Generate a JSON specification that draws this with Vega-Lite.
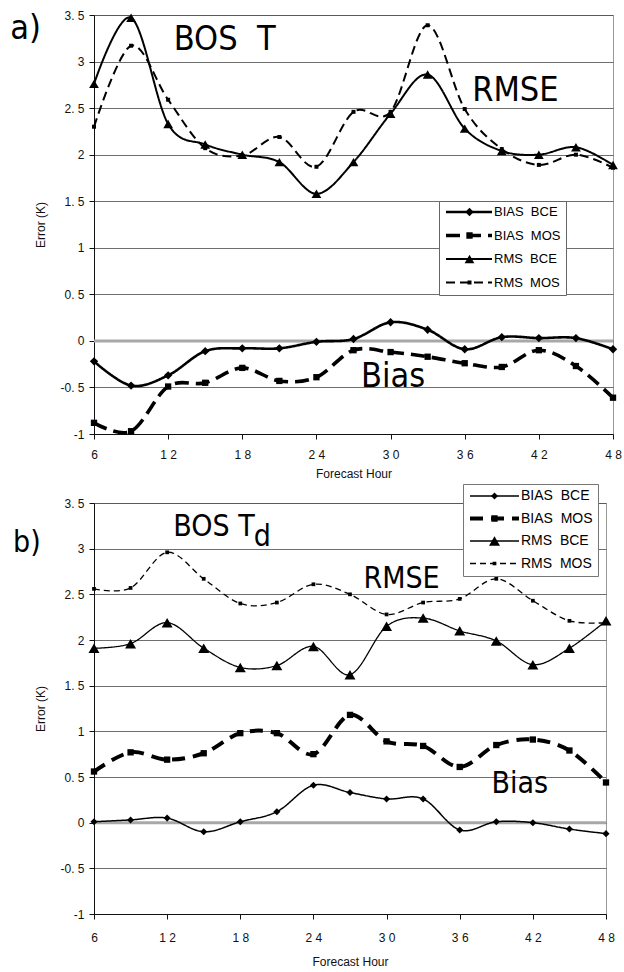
{
  "$schema": "https://vega.github.io/schema/vega-lite/v6.json",
  "padding": {"left": 9, "top": 8, "right": 4, "bottom": 2},
  "spacing": 3,
  "datasets": {
    "a": [
      {"series": "BIAS BCE", "hour": 6, "err": -0.22}, {"series": "BIAS BCE", "hour": 9, "err": -0.48},
      {"series": "BIAS BCE", "hour": 12, "err": -0.37}, {"series": "BIAS BCE", "hour": 15, "err": -0.11},
      {"series": "BIAS BCE", "hour": 18, "err": -0.08}, {"series": "BIAS BCE", "hour": 21, "err": -0.08},
      {"series": "BIAS BCE", "hour": 24, "err": -0.01}, {"series": "BIAS BCE", "hour": 27, "err": 0.02},
      {"series": "BIAS BCE", "hour": 30, "err": 0.2}, {"series": "BIAS BCE", "hour": 33, "err": 0.12},
      {"series": "BIAS BCE", "hour": 36, "err": -0.09}, {"series": "BIAS BCE", "hour": 39, "err": 0.04},
      {"series": "BIAS BCE", "hour": 42, "err": 0.03}, {"series": "BIAS BCE", "hour": 45, "err": 0.03},
      {"series": "BIAS BCE", "hour": 48, "err": -0.09},
      {"series": "BIAS MOS", "hour": 6, "err": -0.88}, {"series": "BIAS MOS", "hour": 9, "err": -0.97},
      {"series": "BIAS MOS", "hour": 12, "err": -0.49}, {"series": "BIAS MOS", "hour": 15, "err": -0.45},
      {"series": "BIAS MOS", "hour": 18, "err": -0.29}, {"series": "BIAS MOS", "hour": 21, "err": -0.43},
      {"series": "BIAS MOS", "hour": 24, "err": -0.39}, {"series": "BIAS MOS", "hour": 27, "err": -0.1},
      {"series": "BIAS MOS", "hour": 30, "err": -0.12}, {"series": "BIAS MOS", "hour": 33, "err": -0.17},
      {"series": "BIAS MOS", "hour": 36, "err": -0.24}, {"series": "BIAS MOS", "hour": 39, "err": -0.28},
      {"series": "BIAS MOS", "hour": 42, "err": -0.1}, {"series": "BIAS MOS", "hour": 45, "err": -0.27},
      {"series": "BIAS MOS", "hour": 48, "err": -0.61},
      {"series": "RMS BCE", "hour": 6, "err": 2.76}, {"series": "RMS BCE", "hour": 9, "err": 3.47},
      {"series": "RMS BCE", "hour": 12, "err": 2.33}, {"series": "RMS BCE", "hour": 15, "err": 2.11},
      {"series": "RMS BCE", "hour": 18, "err": 2.0}, {"series": "RMS BCE", "hour": 21, "err": 1.92},
      {"series": "RMS BCE", "hour": 24, "err": 1.58}, {"series": "RMS BCE", "hour": 27, "err": 1.92},
      {"series": "RMS BCE", "hour": 30, "err": 2.44}, {"series": "RMS BCE", "hour": 33, "err": 2.86},
      {"series": "RMS BCE", "hour": 36, "err": 2.28}, {"series": "RMS BCE", "hour": 39, "err": 2.04},
      {"series": "RMS BCE", "hour": 42, "err": 2.0}, {"series": "RMS BCE", "hour": 45, "err": 2.08},
      {"series": "RMS BCE", "hour": 48, "err": 1.89},
      {"series": "RMS MOS", "hour": 6, "err": 2.3}, {"series": "RMS MOS", "hour": 9, "err": 3.17},
      {"series": "RMS MOS", "hour": 12, "err": 2.59}, {"series": "RMS MOS", "hour": 15, "err": 2.07},
      {"series": "RMS MOS", "hour": 18, "err": 1.99}, {"series": "RMS MOS", "hour": 21, "err": 2.19},
      {"series": "RMS MOS", "hour": 24, "err": 1.87}, {"series": "RMS MOS", "hour": 27, "err": 2.46},
      {"series": "RMS MOS", "hour": 30, "err": 2.46}, {"series": "RMS MOS", "hour": 33, "err": 3.39},
      {"series": "RMS MOS", "hour": 36, "err": 2.49}, {"series": "RMS MOS", "hour": 39, "err": 2.06},
      {"series": "RMS MOS", "hour": 42, "err": 1.89}, {"series": "RMS MOS", "hour": 45, "err": 2.0},
      {"series": "RMS MOS", "hour": 48, "err": 1.86}
    ],
    "b": [
      {"series": "BIAS BCE", "hour": 6, "err": 0.01}, {"series": "BIAS BCE", "hour": 9, "err": 0.03},
      {"series": "BIAS BCE", "hour": 12, "err": 0.05}, {"series": "BIAS BCE", "hour": 15, "err": -0.1},
      {"series": "BIAS BCE", "hour": 18, "err": 0.01}, {"series": "BIAS BCE", "hour": 21, "err": 0.12},
      {"series": "BIAS BCE", "hour": 24, "err": 0.41}, {"series": "BIAS BCE", "hour": 27, "err": 0.33},
      {"series": "BIAS BCE", "hour": 30, "err": 0.26}, {"series": "BIAS BCE", "hour": 33, "err": 0.26},
      {"series": "BIAS BCE", "hour": 36, "err": -0.08}, {"series": "BIAS BCE", "hour": 39, "err": 0.01},
      {"series": "BIAS BCE", "hour": 42, "err": 0.0}, {"series": "BIAS BCE", "hour": 45, "err": -0.07},
      {"series": "BIAS BCE", "hour": 48, "err": -0.12},
      {"series": "BIAS MOS", "hour": 6, "err": 0.56}, {"series": "BIAS MOS", "hour": 9, "err": 0.77},
      {"series": "BIAS MOS", "hour": 12, "err": 0.69}, {"series": "BIAS MOS", "hour": 15, "err": 0.76},
      {"series": "BIAS MOS", "hour": 18, "err": 0.98}, {"series": "BIAS MOS", "hour": 21, "err": 0.98},
      {"series": "BIAS MOS", "hour": 24, "err": 0.75}, {"series": "BIAS MOS", "hour": 27, "err": 1.18},
      {"series": "BIAS MOS", "hour": 30, "err": 0.89}, {"series": "BIAS MOS", "hour": 33, "err": 0.84},
      {"series": "BIAS MOS", "hour": 36, "err": 0.61}, {"series": "BIAS MOS", "hour": 39, "err": 0.85},
      {"series": "BIAS MOS", "hour": 42, "err": 0.91}, {"series": "BIAS MOS", "hour": 45, "err": 0.79},
      {"series": "BIAS MOS", "hour": 48, "err": 0.44},
      {"series": "RMS BCE", "hour": 6, "err": 1.91}, {"series": "RMS BCE", "hour": 9, "err": 1.96},
      {"series": "RMS BCE", "hour": 12, "err": 2.19}, {"series": "RMS BCE", "hour": 15, "err": 1.91},
      {"series": "RMS BCE", "hour": 18, "err": 1.7}, {"series": "RMS BCE", "hour": 21, "err": 1.72},
      {"series": "RMS BCE", "hour": 24, "err": 1.93}, {"series": "RMS BCE", "hour": 27, "err": 1.62},
      {"series": "RMS BCE", "hour": 30, "err": 2.15}, {"series": "RMS BCE", "hour": 33, "err": 2.24},
      {"series": "RMS BCE", "hour": 36, "err": 2.1}, {"series": "RMS BCE", "hour": 39, "err": 1.99},
      {"series": "RMS BCE", "hour": 42, "err": 1.73}, {"series": "RMS BCE", "hour": 45, "err": 1.91},
      {"series": "RMS BCE", "hour": 48, "err": 2.21},
      {"series": "RMS MOS", "hour": 6, "err": 2.56}, {"series": "RMS MOS", "hour": 9, "err": 2.57},
      {"series": "RMS MOS", "hour": 12, "err": 2.96}, {"series": "RMS MOS", "hour": 15, "err": 2.67},
      {"series": "RMS MOS", "hour": 18, "err": 2.4}, {"series": "RMS MOS", "hour": 21, "err": 2.41},
      {"series": "RMS MOS", "hour": 24, "err": 2.61}, {"series": "RMS MOS", "hour": 27, "err": 2.5},
      {"series": "RMS MOS", "hour": 30, "err": 2.28}, {"series": "RMS MOS", "hour": 33, "err": 2.41},
      {"series": "RMS MOS", "hour": 36, "err": 2.45}, {"series": "RMS MOS", "hour": 39, "err": 2.67},
      {"series": "RMS MOS", "hour": 42, "err": 2.43}, {"series": "RMS MOS", "hour": 45, "err": 2.21},
      {"series": "RMS MOS", "hour": 48, "err": 2.19}
    ],
    "notesA": [
      {"label": "a)", "hour": -0.77, "err": 3.24},
      {"label": "BOS\u00a0 T", "hour": 12.45, "err": 3.12},
      {"label": "RMSE", "hour": 36.6, "err": 2.58},
      {"label": "Bias", "hour": 27.6, "err": -0.5}
    ],
    "notesB": [
      {"label": "b)", "hour": -0.64, "err": 2.96},
      {"label": "BOS T", "hour": 12.5, "err": 3.14},
      {"label": "d", "hour": 19.1, "err": 3.03},
      {"label": "RMSE", "hour": 28.1, "err": 2.57},
      {"label": "Bias", "hour": 38.6, "err": 0.33}
    ]
  },
  "config": {
    "font": "Liberation Sans",
    "view": {"stroke": "#9a9a9a", "strokeWidth": 1},
    "axis": {
      "labelFont": "Liberation Sans", "labelFontSize": 12, "labelColor": "#111",
      "titleFont": "Liberation Sans", "titleFontSize": 12, "titleFontWeight": "normal", "titleColor": "#111",
      "domainColor": "#111", "tickColor": "#111", "tickSize": 5,
      "gridColor": "#4a4a4a", "gridWidth": 0.8, "gridOpacity": 1
    },
    "legend": {"labelFont": "Liberation Sans", "labelColor": "#000"}
  },
  "resolve": {
    "scale": {"strokeDash": "independent", "strokeWidth": "independent", "shape": "independent", "size": "independent"},
    "legend": {"strokeDash": "independent", "strokeWidth": "independent", "shape": "independent", "size": "independent"}
  },
  "vconcat": [
    {
      "width": 519,
      "height": 419,
      "layer": [
        {
          "data": {"values": [{}]},
          "mark": {"type": "rule", "color": "#a8a8a8", "strokeWidth": 3},
          "encoding": {"y": {"datum": 0, "type": "quantitative", "title": "Error (K)", "scale": {"domain": [-1, 3.5], "nice": false}}}
        },
        {
          "data": {"name": "a"},
          "mark": {"type": "line", "interpolate": "cardinal", "color": "#000"},
          "encoding": {
            "x": {"field": "hour", "type": "quantitative", "title": "Forecast Hour",
              "scale": {"domain": [6, 48], "nice": false, "zero": false},
              "axis": {"values": [6, 12, 18, 24, 30, 36, 42, 48], "labelExpr": "join(split(datum.label, ''), ' ')", "grid": false, "labelPadding": 10, "titlePadding": 8, "labelFlush": false, "labelOverlap": false}},
            "y": {"field": "err", "type": "quantitative", "title": "Error (K)",
              "scale": {"domain": [-1, 3.5], "nice": false},
              "axis": {"values": [-1, -0.5, 0, 0.5, 1, 1.5, 2, 2.5, 3, 3.5], "labelExpr": "replace(toString(datum.value), '.', '. ')", "grid": true, "labelPadding": 5, "titlePadding": 12}},
            "strokeDash": {"field": "series", "type": "nominal", "scale": {"range": [[1, 0], [14, 7], [1, 0], [9, 5]]},
              "legend": {"title": null, "orient": "none", "legendX": 345, "legendY": 186, "symbolType": "stroke", "symbolSize": 2116, "symbolStrokeColor": "#000", "labelFontSize": 13, "labelOffset": 0, "clipHeight": 12, "rowPadding": 10.5, "padding": 5, "strokeColor": "#666", "fillColor": "white", "labelExpr": "replace(datum.label, ' ', '\u00a0\u00a0') + '\u00a0\u00a0\u00a0\u00a0'"}},
            "strokeWidth": {"field": "series", "type": "ordinal", "scale": {"type": "ordinal", "range": [2.6, 3.6, 2, 2]},
              "legend": {"title": null, "orient": "none", "legendX": 345, "legendY": 186, "symbolType": "stroke", "symbolSize": 2116, "symbolStrokeColor": "#000", "labelFontSize": 13, "labelOffset": 0, "clipHeight": 12, "rowPadding": 10.5, "padding": 5, "strokeColor": "#666", "fillColor": "white", "labelExpr": "replace(datum.label, ' ', '\u00a0\u00a0') + '\u00a0\u00a0\u00a0\u00a0'"}}
          }
        },
        {
          "data": {"name": "a"},
          "mark": {"type": "point", "filled": true, "color": "#000", "opacity": 1, "strokeWidth": 0},
          "encoding": {
            "x": {"field": "hour", "type": "quantitative", "title": "Forecast Hour", "scale": {"domain": [6, 48], "nice": false, "zero": false}},
            "y": {"field": "err", "type": "quantitative", "title": "Error (K)", "scale": {"domain": [-1, 3.5], "nice": false}},
            "shape": {"field": "series", "type": "nominal",
              "scale": {"domain": ["BIAS BCE", "BIAS MOS", "RMS BCE", "RMS MOS"], "range": ["diamond", "square", "triangle-up", "square"]},
              "legend": {"title": null, "orient": "none", "legendX": 364, "legendY": 186, "labelFontSize": 13, "labelOpacity": 0, "labelExpr": "'\u00a0'", "clipHeight": 12, "rowPadding": 10.5, "padding": 5, "symbolFillColor": "#000", "symbolStrokeWidth": 0, "symbolOpacity": 1}},
            "size": {"field": "series", "type": "ordinal",
              "scale": {"type": "ordinal", "domain": ["BIAS BCE", "BIAS MOS", "RMS BCE", "RMS MOS"], "range": [70, 40, 95, 16]},
              "legend": {"title": null, "orient": "none", "legendX": 364, "legendY": 186, "labelFontSize": 13, "labelOpacity": 0, "labelExpr": "'\u00a0'", "clipHeight": 12, "rowPadding": 10.5, "padding": 5, "symbolFillColor": "#000", "symbolStrokeWidth": 0, "symbolOpacity": 1}}
          }
        },
        {
          "data": {"name": "notesA"},
          "mark": {"type": "text", "align": "left", "baseline": "alphabetic", "fontSize": 34, "font": "'Liberation Sans Narrow', 'DejaVu Sans Condensed', Roboto, sans-serif", "color": "#000"},
          "encoding": {
            "x": {"field": "hour", "type": "quantitative", "title": "Forecast Hour", "scale": {"domain": [6, 48], "nice": false, "zero": false}},
            "y": {"field": "err", "type": "quantitative", "title": "Error (K)", "scale": {"domain": [-1, 3.5], "nice": false}},
            "text": {"field": "label"}
          }
        }
      ]
    },
    {
      "width": 512,
      "height": 411,
      "layer": [
        {
          "data": {"values": [{}]},
          "mark": {"type": "rule", "color": "#a8a8a8", "strokeWidth": 3},
          "encoding": {"y": {"datum": 0, "type": "quantitative", "title": "Error (K)", "scale": {"domain": [-1, 3.5], "nice": false}}}
        },
        {
          "data": {"name": "b"},
          "mark": {"type": "line", "interpolate": "cardinal", "color": "#000"},
          "encoding": {
            "x": {"field": "hour", "type": "quantitative", "title": "Forecast Hour",
              "scale": {"domain": [6, 48], "nice": false, "zero": false},
              "axis": {"values": [6, 12, 18, 24, 30, 36, 42, 48], "labelExpr": "join(split(datum.label, ''), ' ')", "grid": false, "labelPadding": 13, "titlePadding": 13, "labelFlush": false, "labelOverlap": false}},
            "y": {"field": "err", "type": "quantitative", "title": "Error (K)",
              "scale": {"domain": [-1, 3.5], "nice": false},
              "axis": {"values": [-1, -0.5, 0, 0.5, 1, 1.5, 2, 2.5, 3, 3.5], "labelExpr": "replace(toString(datum.value), '.', '. ')", "grid": true, "labelPadding": 5, "titlePadding": 12}},
            "strokeDash": {"field": "series", "type": "nominal", "scale": {"range": [[1, 0], [13, 8], [1, 0], [6, 4]]},
              "legend": {"title": null, "orient": "none", "legendX": 369, "legendY": -19, "symbolType": "stroke", "symbolSize": 2401, "symbolStrokeColor": "#000", "labelFontSize": 14, "labelOffset": 0, "clipHeight": 14, "rowPadding": 8.5, "padding": 5, "strokeColor": "#777", "fillColor": "white", "labelExpr": "replace(datum.label, ' ', '\u00a0\u00a0') + '\u00a0\u00a0\u00a0\u00a0'"}},
            "strokeWidth": {"field": "series", "type": "ordinal", "scale": {"type": "ordinal", "range": [1.5, 4, 1.3, 1.3]},
              "legend": {"title": null, "orient": "none", "legendX": 369, "legendY": -19, "symbolType": "stroke", "symbolSize": 2401, "symbolStrokeColor": "#000", "labelFontSize": 14, "labelOffset": 0, "clipHeight": 14, "rowPadding": 8.5, "padding": 5, "strokeColor": "#777", "fillColor": "white", "labelExpr": "replace(datum.label, ' ', '\u00a0\u00a0') + '\u00a0\u00a0\u00a0\u00a0'"}}
          }
        },
        {
          "data": {"name": "b"},
          "mark": {"type": "point", "filled": true, "color": "#000", "opacity": 1, "strokeWidth": 0},
          "encoding": {
            "x": {"field": "hour", "type": "quantitative", "title": "Forecast Hour", "scale": {"domain": [6, 48], "nice": false, "zero": false}},
            "y": {"field": "err", "type": "quantitative", "title": "Error (K)", "scale": {"domain": [-1, 3.5], "nice": false}},
            "shape": {"field": "series", "type": "nominal",
              "scale": {"domain": ["BIAS BCE", "BIAS MOS", "RMS BCE", "RMS MOS"], "range": ["diamond", "square", "triangle-up", "square"]},
              "legend": {"title": null, "orient": "none", "legendX": 388.5, "legendY": -19, "labelFontSize": 14, "labelOpacity": 0, "labelExpr": "'\u00a0'", "clipHeight": 14, "rowPadding": 8.5, "padding": 5, "symbolFillColor": "#000", "symbolStrokeWidth": 0, "symbolOpacity": 1}},
            "size": {"field": "series", "type": "ordinal",
              "scale": {"type": "ordinal", "domain": ["BIAS BCE", "BIAS MOS", "RMS BCE", "RMS MOS"], "range": [50, 40, 120, 14]},
              "legend": {"title": null, "orient": "none", "legendX": 388.5, "legendY": -19, "labelFontSize": 14, "labelOpacity": 0, "labelExpr": "'\u00a0'", "clipHeight": 14, "rowPadding": 8.5, "padding": 5, "symbolFillColor": "#000", "symbolStrokeWidth": 0, "symbolOpacity": 1}}
          }
        },
        {
          "data": {"name": "notesB"},
          "mark": {"type": "text", "align": "left", "baseline": "alphabetic", "fontSize": 30, "font": "'Liberation Sans Narrow', 'DejaVu Sans Condensed', Roboto, sans-serif", "color": "#000"},
          "encoding": {
            "x": {"field": "hour", "type": "quantitative", "title": "Forecast Hour", "scale": {"domain": [6, 48], "nice": false, "zero": false}},
            "y": {"field": "err", "type": "quantitative", "title": "Error (K)", "scale": {"domain": [-1, 3.5], "nice": false}},
            "text": {"field": "label"}
          }
        }
      ]
    }
  ]
}
